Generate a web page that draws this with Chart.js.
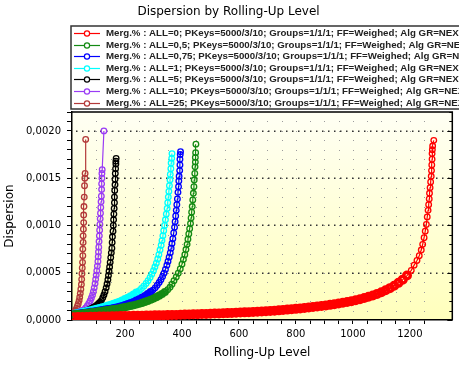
<!DOCTYPE html>
<html><head><meta charset="utf-8">
<script src="https://cdn.jsdelivr.net/npm/chart.js@4/dist/chart.umd.min.js"></script>
<style>html,body{margin:0;padding:0;background:#fff}#wrap{width:459px;height:365px}</style>
</head><body><div id="wrap"><canvas id="c" width="459" height="365"></canvas></div>
<script>
// ---- data ----
const seriesLabels = [
  "Merg.% : ALL=0; PKeys=5000/3/10; Groups=1/1/1; FF=Weighed; Alg GR=NEXT",
  "Merg.% : ALL=0,5; PKeys=5000/3/10; Groups=1/1/1; FF=Weighed; Alg GR=NEXT",
  "Merg.% : ALL=0,75; PKeys=5000/3/10; Groups=1/1/1; FF=Weighed; Alg GR=NEXT",
  "Merg.% : ALL=1; PKeys=5000/3/10; Groups=1/1/1; FF=Weighed; Alg GR=NEXT",
  "Merg.% : ALL=5; PKeys=5000/3/10; Groups=1/1/1; FF=Weighed; Alg GR=NEXT",
  "Merg.% : ALL=10; PKeys=5000/3/10; Groups=1/1/1; FF=Weighed; Alg GR=NEXT",
  "Merg.% : ALL=25; PKeys=5000/3/10; Groups=1/1/1; FF=Weighed; Alg GR=NEXT"
];

const all0Level = [20,35,50,65,80,95,110,125,140,155,170,185,200,215,230,245,260,275,290,305,320,335,350,365,380,395,410,425,440,455,470,485,500,515,530,545,560,575,590,605,620,635,650,665,680,695,710,725,740,755,770,785,800,815,830,845,860,875,890,905,920,935,950,965,980,995,1010,1025,1040,1055,1070,1085,1100,1115,1130,1145,1160,1175,1190,1205,1215,1225,1233,1240,1245,1250,1254,1258,1261,1264,1266,1268,1269,1271,1273,1275,1276,1277,1278,1278,1279,1280,1284];
const all0Disp = [3.0e-5,3.1e-5,3.2e-5,3.3e-5,3.4e-5,3.5e-5,3.6e-5,3.7e-5,3.8e-5,3.9e-5,4.0e-5,4.1e-5,4.2e-5,4.3e-5,4.4e-5,4.5e-5,4.6e-5,4.7e-5,4.8e-5,4.9e-5,5.0e-5,5.1e-5,5.2e-5,5.3e-5,5.4e-5,5.6e-5,5.7e-5,5.8e-5,6.0e-5,6.1e-5,6.3e-5,6.4e-5,6.6e-5,6.8e-5,6.9e-5,7.1e-5,7.3e-5,7.5e-5,7.7e-5,7.9e-5,8.1e-5,8.3e-5,8.5e-5,8.8e-5,9.0e-5,9.3e-5,9.6e-5,9.9e-5,10.2e-5,10.6e-5,11.0e-5,11.4e-5,11.8e-5,12.2e-5,12.7e-5,13.2e-5,13.7e-5,14.2e-5,14.8e-5,15.4e-5,16.0e-5,16.7e-5,17.4e-5,18.2e-5,19.0e-5,19.9e-5,20.9e-5,22.0e-5,23.2e-5,24.5e-5,26.0e-5,27.6e-5,29.4e-5,31.4e-5,33.7e-5,36.3e-5,39.3e-5,42.7e-5,47.0e-5,52.5e-5,58e-5,63e-5,68e-5,74e-5,80e-5,87e-5,94e-5,101e-5,109e-5,116e-5,122e-5,128e-5,134e-5,140e-5,146e-5,152e-5,158e-5,164e-5,170e-5,176e-5,180e-5,184e-5,190e-5];

const all05Level = [20,30,40,50,60,70,80,90,100,110,120,130,140,150,160,170,180,190,200,210,220,230,240,250,260,270,280,290,300,310,320,330,340,350,358,365,372,380,387,394,400,405,410,414,418,421,424,427,430,432,434,436,438,440,442,443,445,446,447,447,448,449];
const all05Disp = [6.0e-5,6.3e-5,6.6e-5,6.9e-5,7.2e-5,7.6e-5,8.0e-5,8.4e-5,8.8e-5,9.3e-5,9.7e-5,10.1e-5,10.5e-5,10.9e-5,11.4e-5,11.9e-5,12.4e-5,13.0e-5,13.6e-5,14.2e-5,14.9e-5,15.6e-5,16.4e-5,17.2e-5,18.1e-5,19.1e-5,20.2e-5,21.4e-5,22.7e-5,24.1e-5,25.7e-5,27.5e-5,29.6e-5,32.0e-5,34.6e-5,37.8e-5,41.5e-5,45.5e-5,49.5e-5,54.0e-5,59.0e-5,64.0e-5,69.0e-5,74.5e-5,80.0e-5,85.5e-5,91.0e-5,96.5e-5,102e-5,108e-5,114e-5,120e-5,127e-5,134e-5,141e-5,148e-5,155e-5,162e-5,167e-5,172e-5,177e-5,186e-5];

const all075Level = [20,30,40,50,60,70,80,90,100,110,120,130,140,150,160,170,180,190,200,210,220,230,240,250,260,270,280,290,298,306,313,320,326,332,337,342,347,351,355,359,362,365,368,371,374,376,378,380,382,384,386,388,389,390,392,393,393,394,395];
const all075Disp = [6.0e-5,6.4e-5,6.8e-5,7.2e-5,7.6e-5,8.0e-5,8.5e-5,9.0e-5,9.4e-5,9.9e-5,10.4e-5,10.9e-5,11.4e-5,11.9e-5,12.5e-5,13.2e-5,14.0e-5,14.8e-5,15.7e-5,16.7e-5,17.8e-5,19.0e-5,20.4e-5,21.9e-5,23.5e-5,25.3e-5,27.3e-5,29.5e-5,31.6e-5,34.0e-5,36.7e-5,39.6e-5,42.6e-5,46.0e-5,49.5e-5,53.5e-5,58.0e-5,62.0e-5,66.5e-5,71.0e-5,76.0e-5,81.0e-5,86.0e-5,92.0e-5,98.0e-5,104e-5,110e-5,116e-5,122e-5,128e-5,135e-5,141e-5,147e-5,152e-5,158e-5,164e-5,170e-5,175e-5,178e-5];

const all1Level = [20,30,40,50,60,70,80,90,100,110,120,130,140,150,160,170,180,190,200,210,220,230,240,250,258,266,274,281,288,294,300,305,310,315,319,323,327,330,333,336,339,342,345,348,350,352,354,356,358,359,361,362,364,365];
const all1Disp = [6.5e-5,7.0e-5,7.6e-5,8.3e-5,8.9e-5,9.6e-5,10.3e-5,11.0e-5,11.8e-5,12.5e-5,13.3e-5,14.2e-5,15.1e-5,16.0e-5,17.0e-5,18.1e-5,19.3e-5,20.6e-5,22.0e-5,23.5e-5,25.1e-5,26.9e-5,28.9e-5,31.1e-5,33.3e-5,35.8e-5,38.6e-5,41.6e-5,45.0e-5,48.5e-5,52.2e-5,56.0e-5,60.0e-5,64.5e-5,69.0e-5,74.0e-5,79.0e-5,84.0e-5,89.0e-5,94.5e-5,100e-5,106e-5,112e-5,118e-5,124e-5,130e-5,136e-5,142e-5,148e-5,154e-5,160e-5,166e-5,171e-5,176e-5];

const all5Level = [20,28,36,44,52,60,68,76,84,92,100,106,112,117,122,126,130,134,137,140,142,144,146,148,150,152,154,155,156,158,159,160,161,162,163,163,164,165,165,166,167,168,168,169];
const all5Disp = [5.0e-5,5.5e-5,6.1e-5,6.8e-5,7.6e-5,8.5e-5,9.5e-5,10.6e-5,11.8e-5,13.1e-5,14.5e-5,16.0e-5,18.0e-5,20.5e-5,23.5e-5,26.5e-5,30.0e-5,34.0e-5,38.0e-5,42.5e-5,47.0e-5,51.5e-5,56.0e-5,61.0e-5,66.0e-5,71.0e-5,76.0e-5,82.0e-5,88.0e-5,94.0e-5,100e-5,106e-5,112e-5,118e-5,124e-5,130e-5,137e-5,143e-5,149e-5,155e-5,160e-5,165e-5,168e-5,171e-5];

const all10Level = [20,26,32,38,44,50,56,62,68,73,78,82,86,89,92,95,97,99,101,103,105,106,107,108,109,110,111,112,113,114,115,116,117,118,118,119,119,120,126];
const all10Disp = [5.0e-5,5.6e-5,6.4e-5,7.3e-5,8.3e-5,9.5e-5,11.0e-5,12.8e-5,15.0e-5,17.5e-5,20.3e-5,23.3e-5,26.5e-5,30.0e-5,34.0e-5,38.5e-5,43.0e-5,47.5e-5,52.0e-5,57.0e-5,62.0e-5,67.0e-5,72.0e-5,77.0e-5,83.0e-5,89.0e-5,95.0e-5,101e-5,107e-5,113e-5,119e-5,125e-5,131e-5,138e-5,144e-5,150e-5,155e-5,159e-5,200e-5];

const all25Level = [17,19,21,24,27,30,33,36,39,41,43,45,47,48,49,50,51,52,52,53,53,54,55,55,56,57,58,59,60,62];
const all25Disp = [5.0e-5,6.0e-5,7.2e-5,8.6e-5,10.3e-5,12.3e-5,14.6e-5,17.3e-5,20.5e-5,24.0e-5,28.0e-5,32.5e-5,37.5e-5,43.0e-5,49.0e-5,55.0e-5,61.0e-5,68.0e-5,75.0e-5,82.0e-5,89.0e-5,96.0e-5,103e-5,111e-5,120e-5,130e-5,142e-5,150e-5,155e-5,191e-5];

const xTickLabels = [200, 400, 600, 800, 1000, 1200];
const yTickLabels = [0, 0.0005, 0.0010, 0.0015, 0.0020];

// ---- styles ----
const seriesColors = ['#ff0000', '#138a13', '#0000ff', '#00ffff', '#000000', '#9a3cf5', '#b33a3a'];
const denseBelow = [0.0005, 0.0003, 0.0003, 0.0003, 0.0002, 0.0001, 0.0001];
const levels = [all0Level, all05Level, all075Level, all1Level, all5Level, all10Level, all25Level];
const disps = [all0Disp, all05Disp, all075Disp, all1Disp, all5Disp, all10Disp, all25Disp];

const datasets = seriesLabels.map((lab, i) => ({
  label: lab,
  data: levels[i].map((lv, k) => ({x: lv, y: disps[i][k]})),
  showLine: true,
  borderColor: seriesColors[i],
  backgroundColor: seriesColors[i],
  borderWidth: 1.2,
  pointRadius: ctx => (i === 0 && ctx.raw && ctx.raw.y < denseBelow[0]) ? 3.3 : 2.8,
  pointBorderWidth: ctx => (ctx.raw && ctx.raw.y < denseBelow[i]) ? (i === 0 ? 3.4 : 2.6) : 1.3,
  pointBackgroundColor: 'rgba(0,0,0,0)',
  pointBorderColor: seriesColors[i],
  pointHoverRadius: 2.8
}));

const FONT = 'DejaVu Sans';
const isMult = (v, step) => Math.abs(v / step - Math.round(v / step)) < 1e-6;

const plotBg = {
  id: 'plotBg',
  beforeDraw(chart) {
    const {ctx, chartArea: a} = chart;
    const g = ctx.createLinearGradient(0, a.top, 0, a.bottom);
    g.addColorStop(0, '#fffff4');
    g.addColorStop(1, '#ffffbc');
    ctx.save();
    ctx.fillStyle = g;
    ctx.fillRect(a.left, a.top, a.right - a.left, a.bottom - a.top);
    ctx.restore();
  },
  beforeDatasetsDraw(chart) {
    const {ctx, chartArea: a, scales: {x, y}} = chart;
    ctx.save();
    ctx.fillStyle = '#9c9c9c';
    x.ticks.forEach(tx => {
      const px = Math.round(x.getPixelForValue(tx.value));
      if (px <= a.left + 1 || px >= a.right - 1) return;
      y.ticks.forEach(ty => {
        const py = Math.round(y.getPixelForValue(ty.value));
        if (py >= a.bottom - 1 || py <= a.top) return;
        ctx.fillRect(px, py, 1, 1);
      });
    });
    ctx.fillStyle = '#333';
    y.ticks.forEach(ty => {
      if (!isMult(ty.value, 0.0005) || ty.value === 0) return;
      const py = Math.round(y.getPixelForValue(ty.value));
      for (let px = a.left + 4; px < a.right - 1; px += 6) ctx.fillRect(px, py - 0.5, 1.5, 1.5);
    });
    ctx.restore();
  },
  afterDatasetsDraw(chart) {
    const {ctx, chartArea: a, scales: {y}} = chart;
    ctx.save();
    ctx.strokeStyle = '#000';
    ctx.lineWidth = 1.5;
    ctx.beginPath();
    ctx.moveTo(a.left, a.top); ctx.lineTo(a.right, a.top); ctx.lineTo(a.right, a.bottom);
    ctx.stroke();
    ctx.lineWidth = 1;
    ctx.beginPath();
    y.ticks.forEach(ty => {
      const py = Math.round(y.getPixelForValue(ty.value)) + 0.5;
      const len = isMult(ty.value, 0.0005) ? 5 : 3;
      ctx.moveTo(a.right - len, py); ctx.lineTo(a.right, py);
    });
    ctx.stroke();
    ctx.restore();
  }
};

const boxLegend = {
  id: 'boxLegend',
  afterDraw(chart) {
    const {ctx} = chart;
    ctx.save();
    ctx.strokeStyle = '#333';
    ctx.lineWidth = 1.5;
    ctx.strokeRect(71, 26, 420, 83);
    ctx.font = 'bold 9.7px "Liberation Sans"';
    ctx.textBaseline = 'middle';
    chart.data.datasets.forEach((ds, i) => {
      const cy = Math.round(33 + i * 11.6) + 0.5;
      ctx.strokeStyle = ds.borderColor;
      ctx.lineWidth = 1.2;
      ctx.beginPath(); ctx.moveTo(74, cy); ctx.lineTo(100, cy); ctx.stroke();
      ctx.fillStyle = '#fff';
      ctx.beginPath(); ctx.arc(87, cy, 2.6, 0, Math.PI * 2); ctx.fill(); ctx.stroke();
      ctx.fillStyle = '#222';
      ctx.fillText(ds.label, 106, cy);
    });
    ctx.restore();
  }
};

new Chart(document.getElementById('c'), {
  type: 'scatter',
  data: {datasets},
  options: {
    responsive: false,
    animation: false,
    devicePixelRatio: 1,
    layout: {padding: {left: 0, right: 2, top: 0, bottom: 0}},
    plugins: {
      legend: {display: false},
      tooltip: {enabled: false},
      title: {
        display: true,
        text: 'Dispersion by Rolling-Up Level',
        color: '#000',
        font: {family: FONT, size: 12, weight: 'normal'},
        padding: {top: 5, bottom: 92.6}
      }
    },
    scales: {
      x: {
        type: 'linear',
        min: 14, max: 1349,
        afterBuildTicks: s => { s.ticks = s.ticks.filter(t => isMult(t.value, 50)); },
        afterFit: s => { s.height = 45; },
        ticks: {
          stepSize: 50, autoSkip: false, maxRotation: 0, padding: 4,
          color: '#000', font: {family: FONT, size: 10},
          callback: v => xTickLabels.some(t => Math.abs(t - v) < 1e-6) ? String(v) : ''
        },
        grid: {drawOnChartArea: false, drawTicks: true, tickLength: 4, tickColor: '#000'},
        border: {color: '#000', width: 1.5},
        title: {display: true, text: 'Rolling-Up Level', color: '#000', font: {family: FONT, size: 12}, padding: {top: 0, bottom: 5}}
      },
      y: {
        type: 'linear',
        min: 0, max: 0.0022,
        afterBuildTicks: s => { s.ticks = s.ticks.filter(t => isMult(t.value, 0.0001)); },
        afterFit: s => { s.width = 72; },
        ticks: {
          stepSize: 0.0001, autoSkip: false, padding: 6,
          color: '#000', font: {family: FONT, size: 10},
          callback: v => yTickLabels.some(t => Math.abs(t - v) < 1e-9) ? v.toFixed(4).replace('.', ',') : ''
        },
        grid: {drawOnChartArea: false, drawTicks: true, tickLength: 5, tickColor: '#000'},
        border: {color: '#000', width: 1.5},
        title: {display: true, text: 'Dispersion', color: '#000', font: {family: FONT, size: 12}, padding: {top: 3, bottom: 0}}
      }
    }
  },
  plugins: [plotBg, boxLegend]
});
</script>
</body></html>
